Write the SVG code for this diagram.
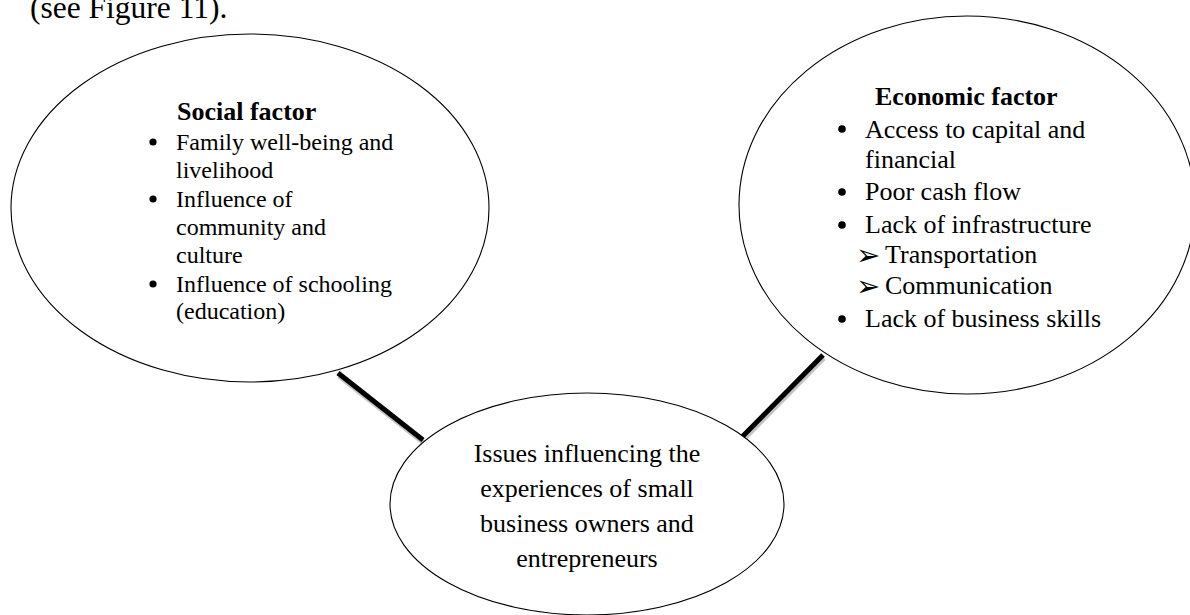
<svg xmlns="http://www.w3.org/2000/svg" width="1190" height="615" viewBox="0 0 1190 615">
<style>
  .ell { fill: #fff; stroke: #000; stroke-width: 1.1; }
  .t { font-family: "Liberation Serif", "Times New Roman", serif; fill: #000; }
  .b { font-weight: bold; }
  .s24 { font-size: 24px; }
  .s26 { font-size: 26px; }
  .arr { font-family: "DejaVu Sans", sans-serif; font-size: 29px; fill: #000; }
  .conn { stroke: #000; stroke-width: 5; stroke-linecap: butt; }
  .shadow { stroke: #c4c4c4; stroke-width: 5; stroke-linecap: butt; }
</style>
<rect width="1190" height="615" fill="#fff"/>
<text class="t" x="30" y="18" style="font-size:31.5px">(see Figure 11).</text>

<g id="connectors">
  <line class="shadow" x1="339" y1="376" x2="424" y2="443"/>
  <line class="shadow" x1="742" y1="441" x2="824" y2="358"/>
  <line class="conn" x1="338" y1="373" x2="423" y2="440"/>
  <line class="conn" x1="741" y1="438" x2="823" y2="355"/>
</g>

<g id="social">
  <ellipse class="ell" cx="250" cy="208" rx="239" ry="174"/>
  <text class="t b s26" x="177" y="120">Social factor</text>
  <circle cx="153" cy="142" r="3.6"/>
  <text class="t s24" x="176" y="150">Family well-being and</text>
  <text class="t s24" x="176" y="178">livelihood</text>
  <circle cx="153" cy="199" r="3.6"/>
  <text class="t s24" x="176" y="207">Influence of</text>
  <text class="t s24" x="176" y="235">community and</text>
  <text class="t s24" x="176" y="263">culture</text>
  <circle cx="153" cy="284" r="3.6"/>
  <text class="t s24" x="176" y="292">Influence of schooling</text>
  <text class="t s24" x="176" y="319">(education)</text>
</g>

<g id="economic">
  <ellipse class="ell" cx="967" cy="205" rx="228" ry="189"/>
  <text class="t b s26" x="875" y="105">Economic factor</text>
  <circle cx="842" cy="129" r="3.8"/>
  <text class="t s26" x="865" y="138">Access to capital and</text>
  <text class="t s26" x="865" y="168">financial</text>
  <circle cx="842" cy="192" r="3.8"/>
  <text class="t s26" x="865" y="200">Poor cash flow</text>
  <circle cx="842" cy="225" r="3.8"/>
  <text class="t s26" x="865" y="233">Lack of infrastructure</text>
  <text class="arr" x="856" y="265">➢</text>
  <text class="t s26" x="885" y="263">Transportation</text>
  <text class="arr" x="856" y="296">➢</text>
  <text class="t s26" x="885" y="294">Communication</text>
  <circle cx="842" cy="319" r="3.8"/>
  <text class="t s26" x="865" y="327">Lack of business skills</text>
</g>

<g id="issues">
  <ellipse class="ell" cx="587" cy="504" rx="197" ry="111"/>
  <text class="t s26" x="587" y="462" text-anchor="middle">Issues influencing the</text>
  <text class="t s26" x="587" y="497" text-anchor="middle">experiences of small</text>
  <text class="t s26" x="587" y="532" text-anchor="middle">business owners and</text>
  <text class="t s26" x="587" y="567" text-anchor="middle">entrepreneurs</text>
</g>
</svg>
